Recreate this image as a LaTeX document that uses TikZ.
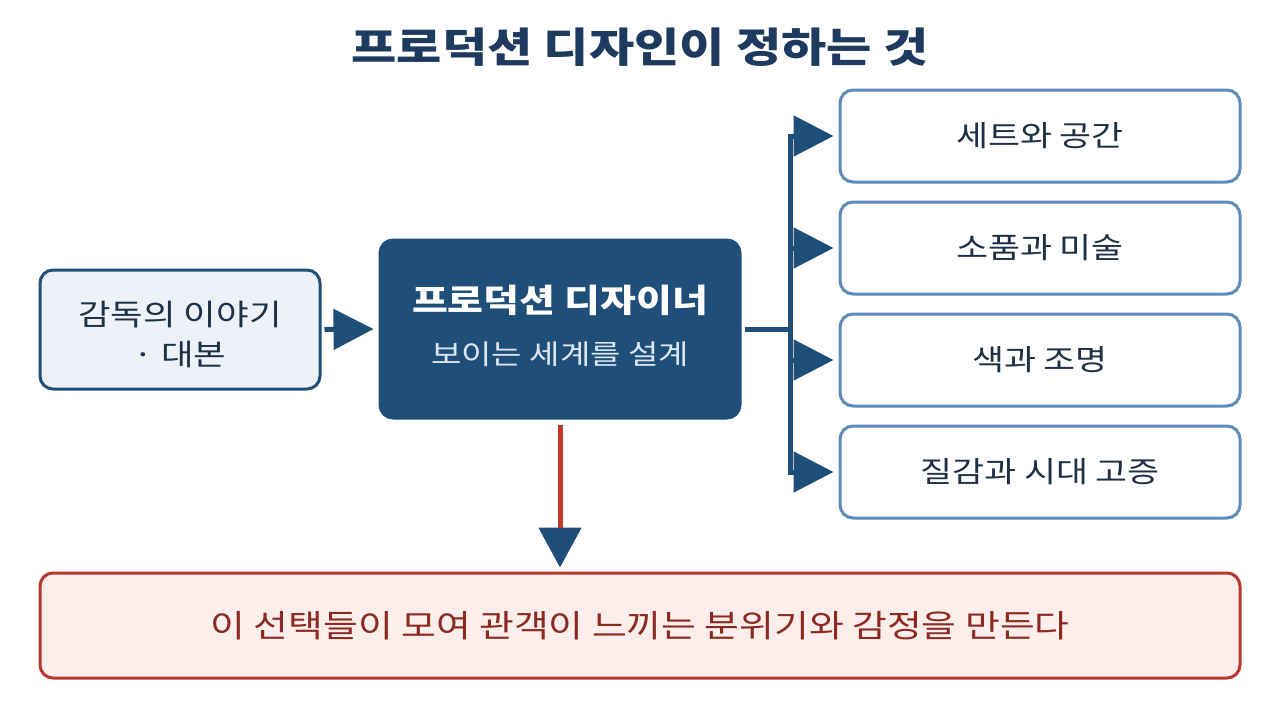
\documentclass[tikz,border=0pt]{standalone}
\usepackage{fontspec}
\setmainfont[FakeStretch=1.2]{Noto Sans CJK KR}
\usetikzlibrary{arrows.meta}
\definecolor{titlec}{HTML}{1E3A5F}
\definecolor{navyc}{HTML}{1F4E79}
\definecolor{lightfill}{HTML}{EDF2F8}
\definecolor{steelc}{HTML}{5B8CBA}
\definecolor{textc}{HTML}{1F2F45}
\definecolor{subc}{HTML}{DCE6F2}
\definecolor{redc}{HTML}{B5382B}
\definecolor{redfill}{HTML}{FDEEEC}
\definecolor{redtext}{HTML}{8B2A20}
\definecolor{redline}{HTML}{C0392B}
\tikzset{
  box/.style={rounded corners=13pt, line width=3pt, inner sep=0pt, align=center},
  sidebox/.style={box, draw=steelc, fill=white, minimum width=400pt, minimum height=92pt, text=textc, font=\fontsize{29}{34}\selectfont},
  conn/.style={line width=5pt, draw=navyc},
  tip/.style={-{Triangle[length=40pt,width=40pt]}},
}
\begin{document}
\begin{tikzpicture}[x=1pt,y=-1pt]
\useasboundingbox (0,0) rectangle (1280,720);
\node[text=titlec, font=\fontsize{41}{46}\selectfont\bfseries] (title) at (640,47) {프로덕션 디자인이 정하는 것};
\node[box, draw=navyc, fill=lightfill, minimum width=280pt, minimum height=119pt] (src) at (180,329.5) {};
\node[text=textc, font=\fontsize{29.5}{40}\selectfont, align=center] (srct) at (180,334) {감독의 이야기\\· 대본};
\node[box, draw=navyc, fill=navyc, minimum width=360pt, minimum height=178pt] (pd) at (560,329) {};
\node[text=white, font=\fontsize{32.5}{38}\selectfont\bfseries] (pdt) at (560,300) {프로덕션 디자이너};
\node[text=subc, font=\fontsize{27.5}{32}\selectfont] (pds) at (560,354) {보이는 세계를 설계};
\node[sidebox] (r1) at (1040,136) {세트와 공간};
\node[sidebox] (r2) at (1040,248) {소품과 미술};
\node[sidebox] (r3) at (1040,360) {색과 조명};
\node[sidebox] (r4) at (1040,472) {질감과 시대 고증};
\node[box, draw=redc, fill=redfill, minimum width=1200pt, minimum height=105pt, text=redtext, font=\fontsize{31.5}{36}\selectfont] (res) at (640,625.5) {이 선택들이 모여 관객이 느끼는 분위기와 감정을 만든다};
% left arrow
\draw[conn, tip, navyc, shorten <=3pt, shorten >=5pt] (src.east) -- (pd.west);
% branches
\coordinate (bx) at (790,329);
\draw[conn] (pd.east) ++(3,0) -- (bx);
\draw[conn, line cap=butt] (bx |- r1.west) ++(5,0) -- ++(-5,0) -- (bx |- r4.west) -- ++(5,0);
\foreach \r in {r1,r2,r3,r4}{
  \draw[conn, tip, navyc, shorten >=5pt] (bx |- \r.west) -- (\r.west);
}
% down arrow
\draw[line width=5pt, redline, -{Triangle[length=40pt,width=42pt,color=navyc,fill=navyc]}, shorten <=5pt, shorten >=4pt] (pd.south) -- (pd.south |- res.north);
\end{tikzpicture}
\end{document}
